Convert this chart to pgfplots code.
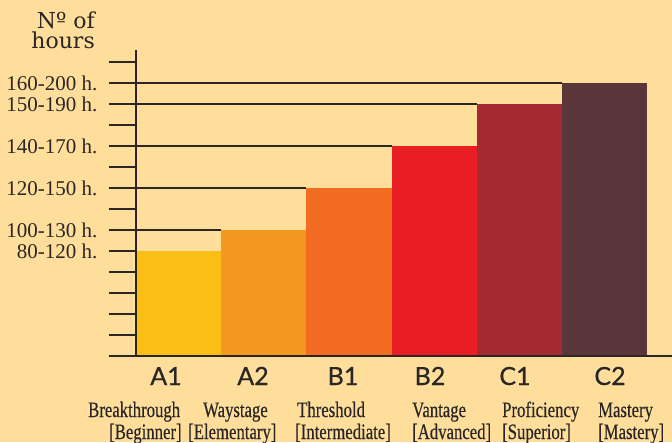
\documentclass[border=0pt]{standalone}
\usepackage{pgfplots}
\pgfplotsset{compat=1.18}
\usepackage{fontspec}
\newfontfamily\labfont[FakeBold=0.7]{Lato}
\newfontfamily\descfont[FakeStretch=0.76, FakeBold=0.4]{Liberation Serif}
\newfontfamily\tickfont{Liberation Serif}
\newfontfamily\titlefont{DejaVu Serif}
\definecolor{bg}{HTML}{FFDE9C}
\definecolor{ink}{HTML}{2A2626}
\definecolor{cAone}{HTML}{FBBE14}
\definecolor{cAtwo}{HTML}{F5981F}
\definecolor{cBone}{HTML}{F26C22}
\definecolor{cBtwo}{HTML}{E81E24}
\definecolor{cCone}{HTML}{A52A31}
\definecolor{cCtwo}{HTML}{5A3539}

\begin{document}
\begin{tikzpicture}
% page = 672 x 442, axis corner at (136,356) px
\useasboundingbox[fill=bg] (-136pt,-86pt) rectangle (536pt,356pt);
\begin{axis}[
    at={(0pt,0pt)}, anchor=south west,
    x=85.2pt, y=21pt,
    xmin=-0.5, xmax=5.79, ymin=0, ymax=14.571,
    axis x line=bottom, axis y line=left,
    axis line style={-, line width=2.8pt, color=ink},
    axis on top,
    xtick=\empty,
    ytick={0,...,14},
    yticklabels={,,,,,80-120 h.,100-130 h.,,120-150 h.,,140-170 h.,,150-190 h.,160-200 h.,},
    y tick label style={font=\tickfont\fontsize{21}{24}\selectfont, color=ink, anchor=east, xshift=-8pt},
    tick align=outside, major tick length=27pt,
    y tick style={line width=1.8pt, color=ink},
    clip=false,
  ]
  \addplot[ybar, bar width=1, bar shift=0pt, fill=cAone, draw=none] coordinates {(0,5)};
  \addplot[ybar, bar width=1, bar shift=0pt, fill=cAtwo, draw=none] coordinates {(1,6)};
  \addplot[ybar, bar width=1, bar shift=0pt, fill=cBone, draw=none] coordinates {(2,8)};
  \addplot[ybar, bar width=1, bar shift=0pt, fill=cBtwo, draw=none] coordinates {(3,10)};
  \addplot[ybar, bar width=1, bar shift=0pt, fill=cCone, draw=none] coordinates {(4,12)};
  \addplot[ybar, bar width=1, bar shift=0pt, fill=cCtwo, draw=none] coordinates {(5,13)};

  % guide lines from the axis to each bar
  \addplot[ink, line width=1.8pt] coordinates {(-0.5,6) (0.5,6)};
  \addplot[ink, line width=1.8pt] coordinates {(-0.5,8) (1.5,8)};
  \addplot[ink, line width=1.8pt] coordinates {(-0.5,10) (2.5,10)};
  \addplot[ink, line width=1.8pt] coordinates {(-0.5,12) (3.5,12)};
  \addplot[ink, line width=1.8pt] coordinates {(-0.5,13) (4.5,13)};
\end{axis}

% y axis title
\node[anchor=north east, inner sep=0, align=right, font=\titlefont\fontsize{22}{19.5}\selectfont, color=ink] at (-41pt,344pt) {Nº of\\hours};

% level codes
\begin{scope}[every node/.style={anchor=base, inner sep=0, font=\labfont\fontsize{25}{30}\selectfont, color=ink}]
  \node at (30pt,-29pt) {A1};
  \node at (117pt,-29pt) {A2};
  \node at (207pt,-29pt) {B1};
  \node at (294pt,-29pt) {B2};
  \node at (379pt,-29pt) {C1};
  \node at (474pt,-29pt) {C2};
\end{scope}

% level names
\begin{scope}[every node/.style={anchor=base west, inner sep=0, font=\descfont\fontsize{22}{26}\selectfont, color=ink}]
  \node at (-48pt,-61pt) {Breakthrough};
  \node at (-27pt,-83pt) {[Beginner]};
  \node at (67pt,-61pt) {Waystage};
  \node at (52pt,-83pt) {[Elementary]};
  \node at (161pt,-61pt) {Threshold};
  \node at (159pt,-83pt) {[Intermediate]};
  \node at (276pt,-61pt) {Vantage};
  \node at (276pt,-83pt) {[Advanced]};
  \node at (366pt,-61pt) {Proficiency};
  \node at (366pt,-83pt) {[Superior]};
  \node at (462pt,-61pt) {Mastery};
  \node at (462pt,-83pt) {[Mastery]};
\end{scope}
\end{tikzpicture}
\end{document}
